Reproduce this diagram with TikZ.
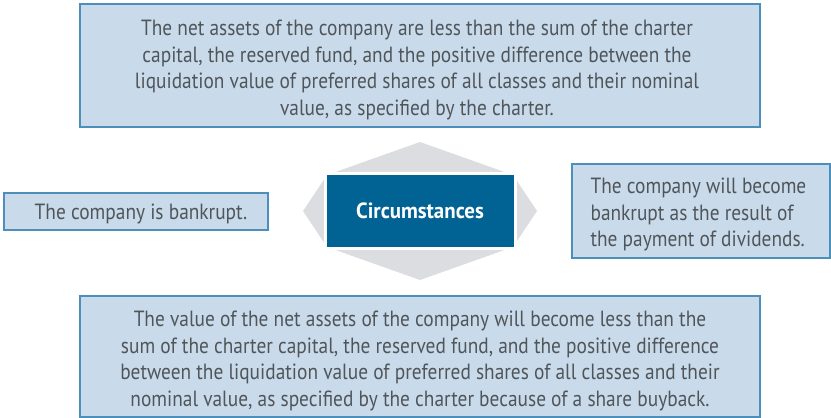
\documentclass[tikz,border=0pt]{standalone}
\usepackage{fontspec}
\setmainfont[FakeStretch=0.88]{PT Sans}
\newfontfamily\boldcond[FakeStretch=0.95]{PT Sans Bold}
\definecolor{boxfill}{HTML}{C9DBEA}
\definecolor{boxline}{HTML}{4B8FBA}
\definecolor{txt}{HTML}{50555A}
\definecolor{hexgray}{HTML}{DCDDE0}
\definecolor{centerblue}{HTML}{006394}
\tikzset{
  infobox/.style={draw=boxline, fill=boxfill, line width=1.3pt, inner sep=0pt},
  infotext/.style={inner sep=0pt, text=txt, font=\fontsize{22}{26.5}\selectfont},
  centerbox/.style={fill=centerblue, draw=white, line width=3pt, inner sep=0pt,
    minimum width=190pt, minimum height=75pt, text=white,
    font=\boldcond\fontsize{22}{24}\selectfont},
}
\begin{document}
\begin{tikzpicture}[x=1pt,y=-1pt]
\useasboundingbox (0,0) rectangle (831,418);
% hexagon background
\fill[hexgray] (420,142) -- (513,175) -- (537,211) -- (513,247) -- (420,280) -- (327,247) -- (303,211) -- (327,175) -- cycle;
\node[centerbox] (c) at (420,210.5) {Circumstances};
% boxes
\node[infobox, minimum width=680pt, minimum height=123pt] (top) at (420,65.5) {};
\node[infobox, minimum width=264pt, minimum height=37pt] (left) at (136,211.5) {};
\node[infobox, minimum width=258pt, minimum height=94pt] (right) at (701,211) {};
\node[infobox, minimum width=680pt, minimum height=121pt] (bottom) at (420,356.5) {};
% texts
\node[infotext, align=center] (toptext) at ([xshift=-3pt,yshift=-4.5pt]top.center)
  {The net assets of the company are less than the sum of the charter\\
   capital, the reserved fund, and the positive difference between the\\
   liquidation value of preferred shares of all classes and their nominal\\
   value, as specified by the charter.};
\node[infotext] (lefttext) at ([xshift=5pt,yshift=-2.5pt]left.center)
  {The company is bankrupt.};
\node[infotext, align=left, anchor=west] (righttext) at ([xshift=19pt,yshift=-3.5pt]right.west)
  {The company will become\\bankrupt as the result of\\the payment of dividends.};
\node[infotext, align=center] (bottomtext) at ([yshift=-4.5pt]bottom.center)
  {The value of the net assets of the company will become less than the\\
   sum of the charter capital, the reserved fund, and the positive difference\\
   between the liquidation value of preferred shares of all classes and their\\
   nominal value, as specified by the charter because of a share buyback.};
\end{tikzpicture}
\end{document}
